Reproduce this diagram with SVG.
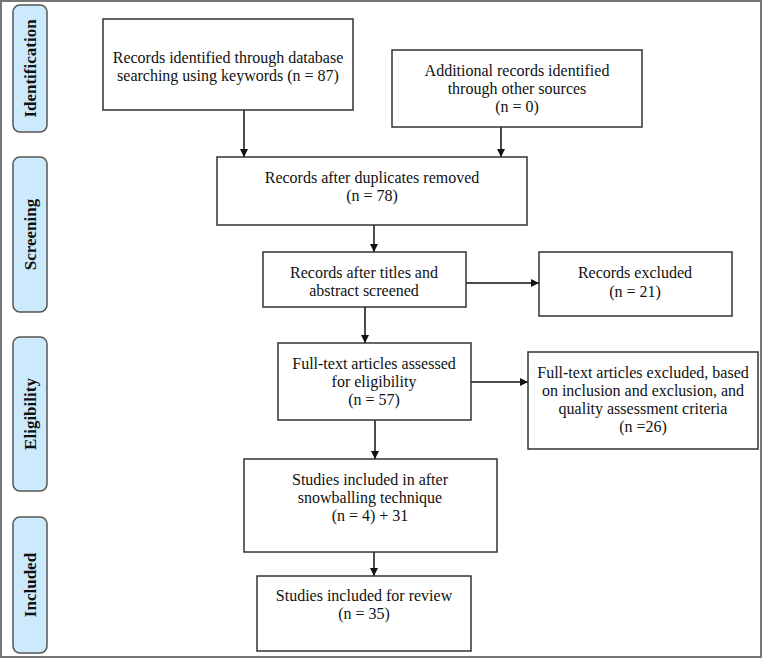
<svg xmlns="http://www.w3.org/2000/svg" width="762" height="659" viewBox="0 0 762 659">
<defs>
<style>
.box{fill:#fff;stroke:#333;stroke-width:1.5}
.phase{fill:#cdeafc;stroke:#555;stroke-width:1.5}
.t{font-family:"Liberation Serif","Times New Roman",serif;font-size:16px;fill:#111;text-anchor:middle}
.p{font-family:"Liberation Serif","Times New Roman",serif;font-size:17px;font-weight:bold;fill:#111;text-anchor:middle}
.c{stroke:#111;stroke-width:1.5;fill:none;marker-end:url(#ah)}
</style>
<marker id="ah" viewBox="0 0 10 10" refX="10" refY="5" markerWidth="8" markerHeight="8" markerUnits="userSpaceOnUse" orient="auto">
<path d="M0,0 L10,5 L0,10 Z" fill="#111"/>
</marker>
</defs>
<rect x="0" y="0" width="762" height="659" fill="#fff"/>
<rect x="1" y="1" width="760" height="656" fill="none" stroke="#777" stroke-width="2"/>

<g id="phase-identification"><rect class="phase" x="13" y="5" width="34" height="127" rx="7"/><text class="p" transform="translate(36,68.5) rotate(-90)">Identification</text></g>
<g id="phase-screening"><rect class="phase" x="13" y="157" width="34" height="155" rx="7"/><text class="p" transform="translate(36,234.5) rotate(-90)">Screening</text></g>
<g id="phase-eligibility"><rect class="phase" x="13" y="337" width="34" height="154" rx="7"/><text class="p" transform="translate(36,414) rotate(-90)">Eligibility</text></g>
<g id="phase-included"><rect class="phase" x="13" y="517" width="34" height="136" rx="7"/><text class="p" transform="translate(36,585) rotate(-90)">Included</text></g>

<g id="connectors">
<line class="c" x1="244" y1="110" x2="244" y2="157"/>
<line class="c" x1="501" y1="127" x2="501" y2="157"/>
<line class="c" x1="374" y1="225" x2="374" y2="252"/>
<line class="c" x1="466" y1="283" x2="539" y2="283"/>
<line class="c" x1="365" y1="307" x2="365" y2="343"/>
<line class="c" x1="471" y1="382" x2="528" y2="382"/>
<line class="c" x1="375" y1="420" x2="375" y2="459"/>
<line class="c" x1="374" y1="552" x2="374" y2="576"/>
</g>

<g id="n1"><rect class="box" x="103" y="19" width="250" height="91"/>
<text class="t" x="228" y="63">Records identified through database</text>
<text class="t" x="228" y="81">searching using keywords (n = 87)</text></g>

<g id="n2"><rect class="box" x="392" y="50" width="250" height="77"/>
<text class="t" x="517" y="76">Additional records identified</text>
<text class="t" x="517" y="94">through other sources</text>
<text class="t" x="517" y="112">(n = 0)</text></g>

<g id="n3"><rect class="box" x="217" y="157" width="310" height="68"/>
<text class="t" x="372" y="183">Records after duplicates removed</text>
<text class="t" x="372" y="201">(n = 78)</text></g>

<g id="n4"><rect class="box" x="263" y="252" width="203" height="55"/>
<text class="t" x="364" y="278">Records after titles and</text>
<text class="t" x="364" y="296">abstract screened</text></g>

<g id="n5"><rect class="box" x="539" y="252" width="193" height="64"/>
<text class="t" x="635" y="278">Records excluded</text>
<text class="t" x="635" y="297">(n = 21)</text></g>

<g id="n6"><rect class="box" x="278" y="343" width="193" height="77"/>
<text class="t" x="374" y="369">Full-text articles assessed</text>
<text class="t" x="374" y="387">for eligibility</text>
<text class="t" x="374" y="405">(n = 57)</text></g>

<g id="n7"><rect class="box" x="528" y="352" width="230" height="97"/>
<text class="t" x="643" y="378">Full-text articles excluded, based</text>
<text class="t" x="643" y="396">on inclusion and exclusion, and</text>
<text class="t" x="643" y="414">quality assessment criteria</text>
<text class="t" x="643" y="432">(n =26)</text></g>

<g id="n8"><rect class="box" x="244" y="459" width="253" height="93"/>
<text class="t" x="370" y="485">Studies included in after</text>
<text class="t" x="370" y="503">snowballing technique</text>
<text class="t" x="370" y="521">(n = 4) + 31</text></g>

<g id="n9"><rect class="box" x="257" y="576" width="214" height="75"/>
<text class="t" x="364" y="601">Studies included for review</text>
<text class="t" x="364" y="619">(n = 35)</text></g>
</svg>
